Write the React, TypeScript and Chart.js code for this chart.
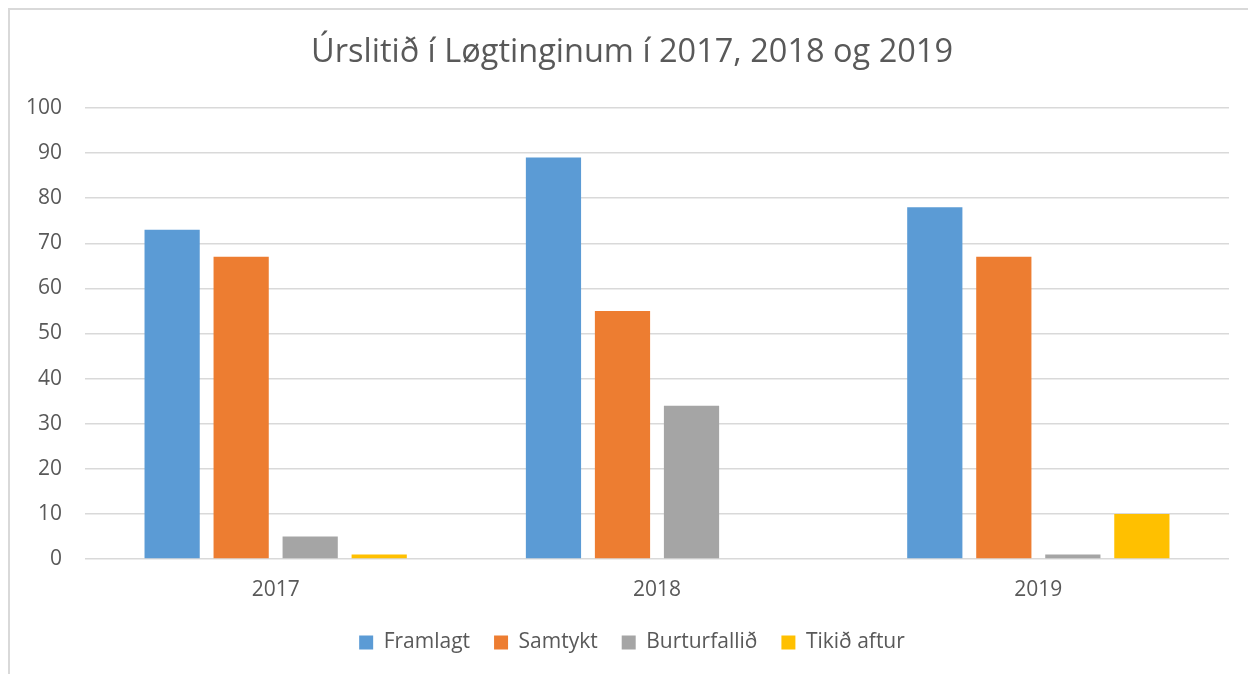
import React, { useEffect, useRef } from "react";
import { Chart, registerables } from "chart.js";

Chart.register(...registerables);

const categories = ["2017", "2018", "2019"];
const seriesNames = ["Framlagt", "Samtykt", "Burturfallið", "Tikið aftur"];
const framlagt = [73, 89, 78];
const samtykt = [67, 55, 67];
const burturfallid = [5, 34, 1];
const tikidAftur = [1, 0, 10];
const seriesColors = ["#5B9BD5", "#ED7D31", "#A5A5A5", "#FFC000"];
const titleText = "Úrslitið í Løgtinginum í 2017, 2018 og 2019";
const yMin = 0;
const yMax = 100;
const yStep = 10;

const FONT = "'Open Sans', 'DejaVu Sans', sans-serif";
const TEXT = "#595959";

export default function App() {
  const ref = useRef<HTMLCanvasElement | null>(null);

  useEffect(() => {
    if (!ref.current) return;
    const values = [framlagt, samtykt, burturfallid, tikidAftur];
    const chart = new Chart(ref.current, {
      type: "bar",
      data: {
        labels: categories,
        datasets: seriesNames.map((name, i) => ({
          label: name,
          data: values[i],
          backgroundColor: seriesColors[i],
          borderWidth: 0,
          categoryPercentage: 0.724,
          barPercentage: 0.8,
        })),
      },
      options: {
        responsive: false,
        animation: false,
        layout: { padding: { left: 0, right: 0, top: 0, bottom: 11 } },
        plugins: {
          title: {
            display: true,
            text: titleText,
            color: TEXT,
            font: { family: FONT, size: 32.5, weight: "normal" },
            padding: { top: 33, bottom: 36 },
          },
          legend: {
            position: "bottom",
            labels: {
              color: TEXT,
              font: { family: FONT, size: 21 },
              boxWidth: 14,
              boxHeight: 14,
              padding: 24,
            },
          },
          tooltip: { enabled: false },
        },
        scales: {
          x: {
            grid: { display: false, drawTicks: false },
            border: { display: false },
            ticks: {
              color: TEXT,
              font: { family: FONT, size: 21 },
              padding: 18,
            },
            afterFit: (scale: any) => {
              scale.height = 49;
            },
          },
          y: {
            min: yMin,
            max: yMax,
            grid: { color: "#d9d9d9", lineWidth: 1.5, drawTicks: false },
            border: { display: false },
            ticks: {
              stepSize: yStep,
              color: TEXT,
              font: { family: FONT, size: 21 },
              padding: 23,
            },
            afterFit: (scale: any) => {
              scale.width = 85;
            },
          },
          yRight: {
            type: "linear",
            position: "right",
            display: true,
            grid: { display: false, drawTicks: false },
            border: { display: false },
            ticks: { display: false },
            afterFit: (scale: any) => {
              scale.width = 35;
            },
          },
        },
      },
    });
    return () => chart.destroy();
  }, []);

  return (
    <>
      <div
        style={{
          position: "fixed",
          left: 8,
          top: 8,
          width: 1300,
          height: 720,
          border: "2px solid #d9d9d9",
          boxSizing: "border-box",
        }}
      />
      <canvas
        ref={ref}
        width={1264}
        height={674}
        style={{ position: "fixed", left: 0, top: 0, display: "block" }}
      />
    </>
  );
}
